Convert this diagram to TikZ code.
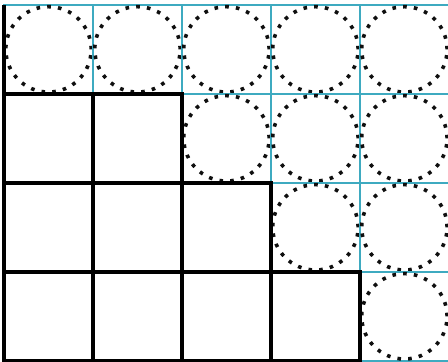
\documentclass[tikz,border=0pt]{standalone}
\usepackage{xcolor}
\usepackage{tikz}
\usetikzlibrary{positioning}
\definecolor{gridcyan}{RGB}{62,170,192}
\definecolor{dotblack}{RGB}{15,15,15}

\begin{document}
\begin{tikzpicture}[x=1cm, y=1cm]
\tikzset{
  cell2/.style={rectangle, draw=gridcyan, line width=1.6pt,
    minimum size=2cm, inner sep=0pt, outer sep=0pt},
  ring2/.style={circle, draw=dotblack, line width=2.3pt,
    dash pattern=on 2.3pt off 4.6pt, minimum size=1.92cm, inner sep=0pt},
  sq2/.style={rectangle, draw=black, line width=2.2pt,
    minimum size=2cm, inner sep=0pt, outer sep=0pt},
  edge2/.style={black, line width=2.2pt}
}
\useasboundingbox (-0.09,-0.02) rectangle (9.98,8.11);
% cyan cells with dotted rings
\node[cell2] (g11) at (1,7) {}; \node[ring2] (r11) at (g11) {};
\node[cell2] (g12) at (3,7) {}; \node[ring2] (r12) at (g12) {};
\node[cell2] (g13) at (5,7) {}; \node[ring2] (r13) at (g13) {};
\node[cell2] (g14) at (7,7) {}; \node[ring2] (r14) at (g14) {};
\node[cell2] (g15) at (9,7) {}; \node[ring2] (r15) at (g15) {};
\node[cell2] (g23) at (5,5) {}; \node[ring2] (r23) at (g23) {};
\node[cell2] (g24) at (7,5) {}; \node[ring2] (r24) at (g24) {};
\node[cell2] (g25) at (9,5) {}; \node[ring2] (r25) at (g25) {};
\node[cell2] (g34) at (7,3) {}; \node[ring2] (r34) at (g34) {};
\node[cell2] (g35) at (9,3) {}; \node[ring2] (r35) at (g35) {};
\node[cell2] (g45) at (9,1) {}; \node[ring2] (r45) at (g45) {};
% black squares
\node[sq2] (s21) at (1,5) {};
\node[sq2] (s22) at (3,5) {};
\node[sq2] (s31) at (1,3) {};
\node[sq2] (s32) at (3,3) {};
\node[sq2] (s33) at (5,3) {};
\node[sq2] (s41) at (1,1) {};
\node[sq2] (s42) at (3,1) {};
\node[sq2] (s43) at (5,1) {};
\node[sq2] (s44) at (7,1) {};
\draw[edge2] (g11.north west) -- (g11.south west);
\end{tikzpicture}
\end{document}
